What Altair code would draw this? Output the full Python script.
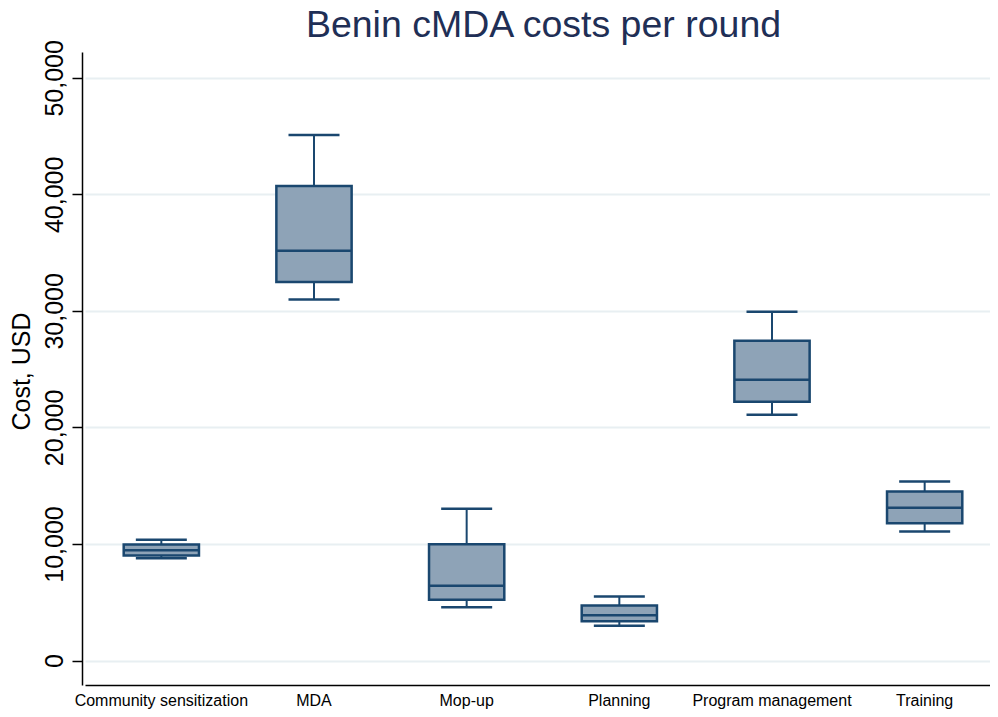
import altair as alt
import pandas as pd

categories = ["Community sensitization", "MDA", "Mop-up", "Planning",
              "Program management", "Training"]
lower = [8784, 30987, 4575, 2976, 21090, 11073]
q1 = [9013, 32476, 5210, 3376, 22206, 11788]
median = [9471, 35166, 6412, 3891, 24094, 13104]
q3 = [9957, 40714, 9983, 4721, 27442, 14506]
upper = [10358, 45090, 13021, 5494, 29931, 15365]
y_ticks = [0, 10000, 20000, 30000, 40000, 50000]

df = pd.DataFrame({"category": categories, "lower": lower, "q1": q1,
                   "median": median, "q3": q3, "upper": upper})

navy = "#1a476f"
fill = "#8ea3b7"
font = "Liberation Sans"

xaxis = alt.Axis(title=None, labelAngle=0, ticks=False, domainColor="black",
                 domainWidth=1.5, labelFontSize=16, labelColor="black",
                 labelPadding=7, labelFont=font, labelLimit=0, grid=False)
yaxis = alt.Axis(values=y_ticks, format=",d", labelAngle=270,
                 labelAlign="center", labelBaseline="alphabetic",
                 labelPadding=10, labelFontSize=25, labelColor="black",
                 labelFont=font, tickSize=10, tickColor="black", tickWidth=1.5,
                 domainColor="black", domainWidth=1.5, gridColor="#e8eff2",
                 gridWidth=2, title="Cost, USD", titleFontSize=25,
                 titleFont=font, titleFontWeight="normal", titleColor="black",
                 titleAngle=270, titleX=-53, titleY=319,
                 titleBaseline="alphabetic", titleAlign="center")

yscale = alt.Scale(domain=[-2102, 52214], nice=False, zero=False)

base = alt.Chart(df).encode(
    x=alt.X("category:N", sort=categories,
            scale=alt.Scale(paddingInner=0, paddingOuter=0, range=[3, 919]),
            axis=xaxis)
)

whisker = base.mark_rule(color=navy, strokeWidth=2).encode(
    y=alt.Y("lower:Q", scale=yscale, axis=yaxis), y2="upper:Q")
box = base.mark_bar(width=alt.RelativeBandSize(0.493), fill=fill,
                    stroke=navy, strokeWidth=2.5, opacity=1).encode(
    y=alt.Y("q1:Q", scale=yscale), y2="q3:Q")
med = base.mark_tick(color=navy, size=75, thickness=2.5, opacity=1).encode(
    y=alt.Y("median:Q", scale=yscale))
cap_lo = base.mark_tick(color=navy, size=51, thickness=2.5, opacity=1).encode(
    y=alt.Y("lower:Q", scale=yscale))
cap_hi = base.mark_tick(color=navy, size=51, thickness=2.5, opacity=1).encode(
    y=alt.Y("upper:Q", scale=yscale))

chart = alt.layer(whisker, box, med, cap_lo, cap_hi).properties(
    width=908, height=633,
    autosize=alt.AutoSizeParams(type="none"),
    padding={"left": 74, "top": 44, "right": 0, "bottom": 24},
    background="white",
    title=alt.Title("Benin cMDA costs per round", fontSize=37.5,
                    color="#1f2f56", font=font, fontWeight="normal",
                    anchor="middle", frame="group", offset=-35,
                    baseline="alphabetic", dx=7.5),
).configure_view(stroke=None)

chart.save("out.html", embed_options={"renderer": "svg", "actions": False})
